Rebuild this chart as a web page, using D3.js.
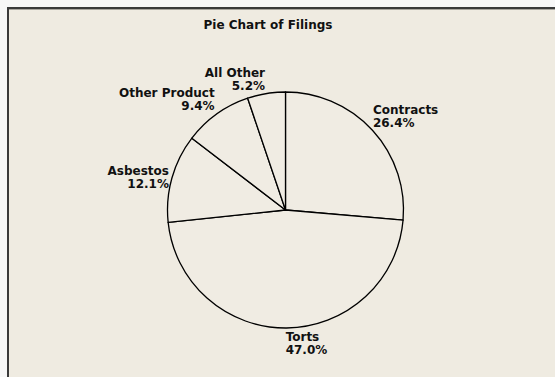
<!DOCTYPE html>
<html>
<head>
<meta charset="utf-8">
<script src="https://cdn.jsdelivr.net/npm/d3@7"></script>
<style>
  html, body { margin: 0; padding: 0; background: #f7f7f7; }
  svg { display: block; }
  text { font-family: "DejaVu Sans", Verdana, sans-serif; font-weight: bold; fill: #111; }
</style>
</head>
<body>
<svg id="chart" width="555" height="377"></svg>
<script>
// Share of filings by category (percent)
const categories = ["Contracts", "Torts", "Asbestos", "Other Product", "All Other"];
const shares = [26.4, 47.0, 12.1, 9.4, 5.2];
const chartTitle = "Pie Chart of Filings";

const W = 555, H = 377;
const cx = 285.5, cy = 210, R = 118;

const svg = d3.select("#chart");

// Panel background and frame (frame runs off the right and bottom edges)
svg.append("rect").attr("x", 8).attr("y", 8).attr("width", W - 8).attr("height", H - 8)
  .attr("fill", "#efebe1");
svg.append("line").attr("x1", 8).attr("x2", W).attr("y1", 9.5).attr("y2", 9.5)
  .attr("stroke", "#a8a59e").attr("stroke-width", 1);
svg.append("line").attr("x1", 7).attr("x2", W).attr("y1", 8).attr("y2", 8)
  .attr("stroke", "#3a3a3a").attr("stroke-width", 2);
svg.append("line").attr("x1", 8).attr("x2", 8).attr("y1", 7).attr("y2", H)
  .attr("stroke", "#3a3a3a").attr("stroke-width", 2);

svg.append("text").attr("x", 268).attr("y", 29).attr("text-anchor", "middle")
  .attr("font-size", 12).text(chartTitle);

const data = categories.map((c, i) => ({ name: c, value: shares[i] }));

const pie = d3.pie().value(d => d.value).sort(null).startAngle(0).endAngle(2 * Math.PI);
const arcs = pie(data);
const arc = d3.arc().innerRadius(0).outerRadius(R);

const g = svg.append("g").attr("transform", `translate(${cx},${cy})`);

g.selectAll("path.slice").data(arcs).join("path")
  .attr("class", "slice")
  .attr("d", arc)
  .attr("fill", "#f0ece3")
  .attr("stroke", "#000")
  .attr("stroke-width", 1.3)
  .attr("stroke-linejoin", "round");

// Two-line labels placed just outside each slice at its mid angle
const labelR = R + 2;
const lineGap = 13, capH = 9;
const labels = g.selectAll("g.label").data(arcs).join("g").attr("class", "label");

labels.each(function (d) {
  const a = (d.startAngle + d.endAngle) / 2;
  const s = Math.sin(a), c = Math.cos(a);
  const px = labelR * s - 1;
  const py = -labelR * c;
  let anchor = "start";
  if (s < -0.05) anchor = "end";
  // first-line baseline
  let b1;
  if (c > 0.35) b1 = py - 2 - lineGap;          // upper: block sits above the point
  else if (c < -0.35) b1 = py + 2 + capH;       // lower: block hangs below the point
  else b1 = py - (capH + lineGap) / 2 + capH;   // side: block centred on the point
  const t = d3.select(this).append("text")
    .attr("font-size", 12).attr("text-anchor", anchor);
  t.append("tspan").attr("x", px).attr("y", b1).text(d.data.name);
  t.append("tspan").attr("x", px).attr("y", b1 + lineGap).text(d.data.value.toFixed(1) + "%");
});
</script>
</body>
</html>
